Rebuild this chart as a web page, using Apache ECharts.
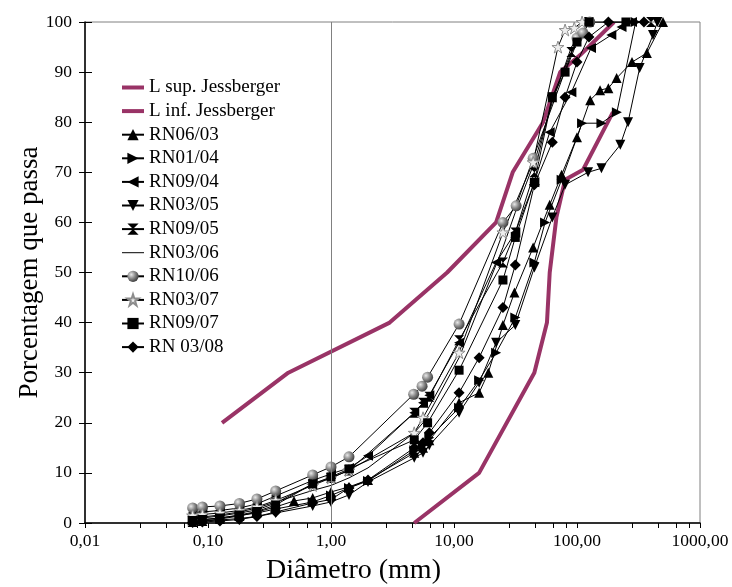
<!DOCTYPE html>
<html>
<head>
<meta charset="utf-8">
<script src="https://cdn.jsdelivr.net/npm/echarts@6/dist/echarts.min.js"></script>
<style>
  html, body { margin: 0; padding: 0; background: #fff; }
  #main { width: 732px; height: 587px; }
</style>
</head>
<body>
<div id="main"></div>
<script>
// limites de Jessberger
var limSup = [[0.13, 20], [0.45, 30], [3.0, 40], [8.8, 50], [22, 60], [30, 70], [53, 80], [73, 90], [106, 93.4], [200, 100]];
var limInf = [[4.75, 0], [16, 10], [45, 30], [57, 40], [60, 50], [68, 61], [80, 68.5], [112, 70.5], [196, 82]];

// curvas granulométricas (diâmetro mm, % que passa)
var rn0603 = [[0.075, 0.2], [0.09, 0.4], [0.125, 0.8], [0.18, 1.4], [0.25, 2.2], [0.355, 3.2], [0.5, 4.4], [0.71, 5.0], [1.0, 6.2], [1.4, 7.2], [2.0, 8.6], [4.75, 14], [5.6, 15], [6.3, 16.5], [11, 24], [16, 26], [19, 30], [25, 39.5], [31, 46], [44, 55], [60, 63.5], [75, 69.5], [100, 77], [128, 84.4], [154, 86.4], [180, 86.8], [210, 88.8], [280, 92], [370, 93.8], [500, 100]];
var rn0104 = [[0.075, 0.5], [0.09, 0.6], [0.125, 1.0], [0.18, 1.5], [0.25, 2.0], [0.355, 2.8], [0.71, 4.2], [1.0, 5.5], [1.4, 7.0], [2.0, 8.4], [4.75, 14.5], [5.6, 15.5], [6.3, 17], [11, 23], [16, 28.5], [22, 34], [31.5, 41], [45, 52], [55, 60], [75, 68.5], [110, 79.8], [158, 79.8], [211, 82], [300, 100]];
var rn0904 = [[0.075, 2.0], [0.09, 2.2], [0.125, 2.5], [0.18, 3.0], [0.25, 3.8], [0.355, 5.4], [0.71, 8.5], [1.0, 9.8], [1.4, 11], [2.0, 13.4], [4.75, 22], [5.6, 24], [6.3, 25.5], [11, 36], [22, 52], [31.5, 58], [45, 68], [60, 78], [90, 86], [130, 94.8], [190, 97.4], [230, 99], [280, 100]];
var rn0305 = [[0.075, 0.3], [0.09, 0.4], [0.125, 0.6], [0.18, 0.9], [0.25, 1.3], [0.355, 2.0], [0.71, 3.4], [1.0, 4.2], [1.4, 5.6], [2.0, 8.2], [4.75, 13], [5.6, 14], [6.3, 15.5], [11, 22], [16, 28], [22, 36], [31.5, 39.5], [45, 51], [63, 61], [80, 67.5], [123, 70], [158, 70.8], [225, 75.5], [260, 80], [323, 90.8], [415, 97.4], [450, 100]];
var rn0905 = [[0.075, 0.8], [0.09, 1.0], [0.125, 1.4], [0.18, 2.0], [0.25, 2.6], [0.355, 4.0], [0.71, 7.8], [1.0, 9.0], [1.4, 10.5], [4.75, 22], [5.6, 24], [6.3, 25.2], [11, 36.5], [25, 52], [31.5, 58], [45, 70], [63, 85], [90, 94], [125, 100], [400, 100]];
var rn0306 = [[0.075, 1.0], [0.09, 1.2], [0.125, 1.6], [0.18, 2.2], [0.25, 3.0], [0.355, 4.2], [0.71, 6.5], [1.0, 7.5], [1.4, 9], [2.0, 11], [4.75, 18], [5.6, 20], [6.3, 22], [11, 33], [25, 55], [31.5, 62], [45, 72], [63, 84], [90, 95], [125, 100]];
var rn1006 = [[0.075, 3.0], [0.09, 3.2], [0.125, 3.4], [0.18, 3.9], [0.25, 4.8], [0.355, 6.4], [0.71, 9.6], [1.0, 11.2], [1.4, 13.2], [4.7, 25.7], [5.5, 27.3], [6.1, 29.1], [11, 39.7], [25, 60], [32, 63.3], [44, 72.8], [100, 96.8], [112, 97.8], [127, 100]];
var rn0307 = [[0.075, 1.5], [0.09, 1.7], [0.125, 2.0], [0.18, 2.5], [0.25, 3.2], [0.355, 4.5], [0.71, 7.5], [1.0, 9], [1.4, 10.5], [4.75, 18], [5.6, 21], [11, 34], [25, 58], [44, 72], [70, 95], [80, 98.4], [95, 98.8], [110, 100]];
var rn0907 = [[0.075, 0.5], [0.09, 0.7], [0.125, 1.0], [0.18, 1.6], [0.25, 2.3], [0.355, 3.6], [0.71, 7.8], [1.0, 9.2], [1.4, 10.8], [4.75, 16.6], [6.1, 20], [11, 30.5], [25, 48.5], [31.5, 57], [45, 68], [63, 85], [80, 90], [100, 96], [125, 100], [250, 100]];
var rn0308 = [[0.075, 0.1], [0.09, 0.2], [0.125, 0.4], [0.18, 0.7], [0.25, 1.3], [0.355, 2.2], [0.71, 4.0], [1.0, 4.7], [1.4, 7.0], [2.0, 8.6], [4.75, 15], [5.6, 16], [6.3, 18], [11, 26], [16, 33], [25, 43], [31.5, 51.5], [45, 67.5], [63, 76], [80, 85], [100, 92], [125, 97], [180, 100], [350, 100]];

var xTicks = [0.01, 0.1, 1, 10, 100, 1000];

var serif = 'Liberation Serif';
var roxo = '#993366';
var hourglass = 'path://M0,0 L10,0 L5,5 L10,10 L0,10 L5,5 Z';
var star = 'path://M5,0 L6.2,3.6 L10,3.6 L6.9,5.8 L8.1,9.5 L5,7.2 L1.9,9.5 L3.1,5.8 L0,3.6 L3.8,3.6 Z';
var bar = 'path://M0,0 H22 V4 H0 Z';
var fio = 'path://M0,0 H22 V1 H0 Z';
var ball = {
    type: 'radial', x: 0.35, y: 0.35, r: 0.7,
    colorStops: [{ offset: 0, color: '#e8e8e8' }, { offset: 0.5, color: '#8a8a8a' }, { offset: 1, color: '#3a3a3a' }]
};

function curva(nome, dados, simbolo, opts) {
    opts = opts || {};
    return {
        name: nome,
        type: 'line',
        data: dados,
        symbol: simbolo,
        symbolSize: opts.size || 10,
        symbolRotate: opts.rot || 0,
        showSymbol: simbolo !== 'none',
        lineStyle: { color: '#000', width: 1 },
        itemStyle: opts.item || { color: '#000' },
        z: 3
    };
}

var myChart = echarts.init(document.getElementById('main'));

var option = {
    animation: false,
    textStyle: { fontFamily: serif, color: '#000' },
    grid: {
        left: 85, right: 32, top: 22, bottom: 64,
        outerBoundsMode: 'none',
        containLabel: false,
        show: true, borderColor: '#808080', borderWidth: 1
    },
    legend: {
        orient: 'vertical',
        left: 116,
        top: 73,
        itemWidth: 22,
        itemHeight: 14,
        itemGap: 4.6,
        textStyle: { fontFamily: serif, fontSize: 19, color: '#000' },
        data: [
            { name: 'L sup. Jessberger', icon: bar },
            { name: 'L inf. Jessberger', icon: bar },
            'RN06/03', 'RN01/04', 'RN09/04', 'RN03/05', 'RN09/05',
            { name: 'RN03/06', icon: fio },
            'RN10/06', 'RN03/07', 'RN09/07', 'RN 03/08'
        ]
    },
    xAxis: {
        type: 'log',
        logBase: 10,
        min: 0.01,
        max: 1000,
        name: 'Diâmetro (mm)',
        nameLocation: 'middle',
        nameGap: 34,
        nameTextStyle: { fontFamily: serif, fontSize: 28, color: '#000', padding: [0, 78, 0, 0] },
        axisLine: { lineStyle: { color: '#000', width: 1.5 } },
        axisTick: { length: 5, lineStyle: { color: '#000' } },
        minorTick: { show: true, splitNumber: 5, length: 5, lineStyle: { color: '#000' } },
        axisLabel: {
            fontFamily: serif, fontSize: 17.5, color: '#000', margin: 9,
            formatter: function (v) {
                var k = xTicks.reduce(function (a, b) { return Math.abs(b - v) < Math.abs(a - v) ? b : a; });
                return k.toFixed(2).replace('.', ',');
            }
        },
        splitLine: { show: false }
    },
    yAxis: [
        {
            type: 'value',
            min: 0,
            max: 100,
            interval: 10,
            name: 'Porcentagem que passa',
            nameLocation: 'middle',
            nameGap: 42,
            nameMoveOverlap: false,
            nameTextStyle: { fontFamily: serif, fontSize: 27, color: '#000' },
            axisLine: { show: true, lineStyle: { color: '#000', width: 1.5 } },
            axisTick: { show: true, length: 6, lineStyle: { color: '#000' } },
            axisLabel: { fontFamily: serif, fontSize: 17.5, color: '#000', margin: 13 },
            splitLine: { show: false }
        },
        {
            type: 'value',
            position: 'left',
            min: 0,
            max: 100,
            interval: 10,
            axisLine: { show: false },
            axisTick: { show: true, inside: true, length: 7, lineStyle: { color: '#000' } },
            axisLabel: { show: false },
            splitLine: { show: false }
        }
    ],
    series: [
        {
            name: 'L sup. Jessberger', type: 'line', data: limSup, symbol: 'none',
            lineStyle: { color: roxo, width: 4 }, itemStyle: { color: roxo }, z: 2,
            markLine: {
                silent: true, symbol: 'none', label: { show: false },
                lineStyle: { color: '#808080', width: 1, type: 'solid' },
                data: [{ xAxis: 1 }]
            }
        },
        {
            name: 'L inf. Jessberger', type: 'line', data: limInf, symbol: 'none',
            lineStyle: { color: roxo, width: 4 }, itemStyle: { color: roxo }, z: 2
        },
        curva('RN06/03', rn0603, 'triangle'),
        curva('RN01/04', rn0104, 'triangle', { rot: -90 }),
        curva('RN09/04', rn0904, 'triangle', { rot: 90 }),
        curva('RN03/05', rn0305, 'triangle', { rot: 180 }),
        curva('RN09/05', rn0905, hourglass),
        curva('RN03/06', rn0306, 'none'),
        curva('RN10/06', rn1006, 'circle', { size: 11, item: { color: ball } }),
        curva('RN03/07', rn0307, star, { size: 12, item: { color: '#eeeeee', borderColor: '#8c8c8c', borderWidth: 1 } }),
        curva('RN09/07', rn0907, 'rect', { size: 9 }),
        curva('RN 03/08', rn0308, 'diamond', { size: 11 })
    ]
};

myChart.setOption(option);
</script>
</body>
</html>
